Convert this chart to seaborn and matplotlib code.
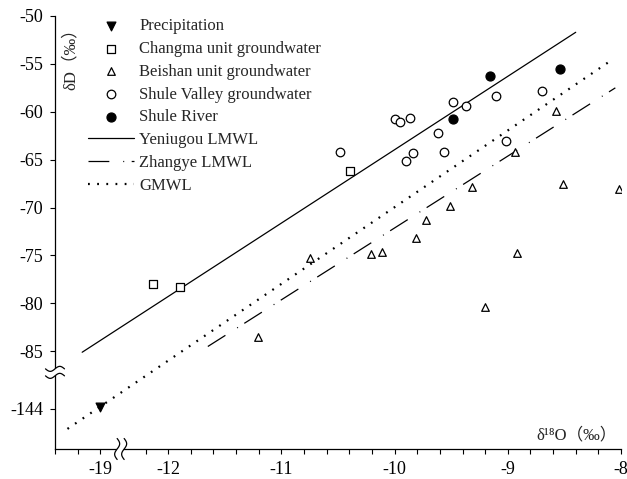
import numpy as np
import matplotlib
matplotlib.use('Agg')
import matplotlib.pyplot as plt
import matplotlib.transforms as mtransforms
import seaborn as sns

precip_x = [-19.0]
precip_y = [-143.8]
changma_x = [-12.13, -11.90, -10.39]
changma_y = [-78.0, -78.3, -66.2]
beishan_x = [-11.21, -10.75, -10.21, -10.11, -9.81, -9.72, -9.51, -9.32, -9.20, -8.92, -8.94, -8.57, -8.51, -8.02]
beishan_y = [-83.5, -75.3, -74.8, -74.6, -73.2, -71.3, -69.8, -67.85, -80.4, -74.7, -64.2, -59.9, -67.5, -68.1]
valley_x = [-10.48, -10.00, -9.95, -9.86, -9.90, -9.84, -9.62, -9.56, -9.48, -9.37, -9.10, -9.02, -8.70]
valley_y = [-64.2, -60.8, -61.1, -60.6, -65.1, -64.3, -62.2, -64.15, -59.0, -59.4, -58.4, -63.1, -57.8]
river_x = [-9.16, -8.54, -9.48]
river_y = [-56.3, -55.5, -60.8]

# meteoric water lines, end points
yeniugou_x = [-19.16, -8.40]
yeniugou_y = [-85.1, -51.7]
zhangye_x = [-11.65, -8.05]
zhangye_y = [-84.5, -57.5]
gmwl_x = [-19.29, -8.07]
gmwl_y = [-146.1, -54.5]

x_tick_vals = [-19, -12, -11, -10, -9, -8]
y_tick_vals = [-50, -55, -60, -65, -70, -75, -80, -85, -144]

# broken axes: the far segments are shifted next to the main range
X_SHIFT = 6.4
Y_SHIFT = 53


def axis_x(vals):
    return [v + X_SHIFT if v < -15 else v for v in vals]


def axis_y(vals):
    return [v + Y_SHIFT if v < -100 else v for v in vals]


def draw_break(ax, x, y, vertical):
    # two wavy strokes with white between them, sizes in inches
    trans = ax.figure.dpi_scale_trans + mtransforms.ScaledTranslation(x, y, ax.transData)
    t = np.linspace(-1, 1, 40)
    wave = 0.025 * np.sin(np.pi * t)
    if vertical:
        a = (wave - 0.035, 0.105 * t)
        b = (wave + 0.035, 0.105 * t)
    else:
        a = (0.095 * t, wave - 0.035)
        b = (0.095 * t, wave + 0.035)
    px = np.concatenate([a[0], b[0][::-1]])
    py = np.concatenate([a[1], b[1][::-1]])
    ax.fill(px, py, color='white', transform=trans, clip_on=False, zorder=5, lw=0)
    for cx, cy in (a, b):
        ax.plot(cx, cy, color='black', lw=0.9, transform=trans, clip_on=False, zorder=6)


sns.set_style('ticks')
plt.rcParams['font.family'] = ['Liberation Serif', 'DejaVu Serif', 'Noto Sans CJK SC']
plt.rcParams['lines.scale_dashes'] = False

fig = plt.figure(figsize=(6.27, 4.79), dpi=100)
ax = fig.add_axes([55 / 627, 30 / 479, 566 / 627, 433 / 479])

mk = dict(edgecolor='black', linewidth=0.9, zorder=4, ax=ax)
sns.scatterplot(x=axis_x(precip_x), y=axis_y(precip_y), marker='v', s=40, color='black',
                label='Precipitation', **mk)
sns.scatterplot(x=changma_x, y=changma_y, marker='s', s=36, color='white',
                label='Changma unit groundwater', **mk)
sns.scatterplot(x=beishan_x, y=beishan_y, marker='^', s=30, color='white',
                label='Beishan unit groundwater', **mk)
sns.scatterplot(x=valley_x, y=valley_y, marker='o', s=38, color='white',
                label='Shule Valley groundwater', **mk)
sns.scatterplot(x=river_x, y=river_y, marker='o', s=42, color='black',
                label='Shule River', **mk)

sns.lineplot(x=axis_x(yeniugou_x), y=axis_y(yeniugou_y), color='black', lw=0.9,
             label='Yeniugou LMWL', ax=ax)
sns.lineplot(x=axis_x(zhangye_x), y=axis_y(zhangye_y), color='black', lw=0.9,
             linestyle=(0, (15, 10, 0.7, 5.4)), label='Zhangye LMWL', ax=ax)
sns.lineplot(x=axis_x(gmwl_x), y=axis_y(gmwl_y), color='black', lw=1.6,
             linestyle=(0, (1.3, 5.3)), label='GMWL', ax=ax)

ax.set_xlim(-13.0, -8.0)
ax.set_ylim(-95.2, -50)
sns.despine(ax=ax)
for sp in ('left', 'bottom'):
    ax.spines[sp].set_linewidth(0.9)
    ax.spines[sp].set_color('black')

# x ticks every 0.2, labelled on whole values
minor_pos = [round(-13.0 + 0.2 * i, 1) for i in range(26)]
minor_pos = [p for p in minor_pos if abs(p + 12.4) > 0.05]
label_pos = axis_x(x_tick_vals)
ax.set_xticks(minor_pos)
ax.set_xticklabels([str(x_tick_vals[label_pos.index(p)]) if p in label_pos else '' for p in minor_pos])
ax.set_yticks(axis_y(y_tick_vals))
ax.set_yticklabels([str(v) for v in y_tick_vals])
ax.tick_params(direction='out', length=3.6, width=0.8, color='black', labelsize=13, pad=5,
               labelcolor='black')
ax.set_xlabel('')
ax.set_ylabel('')

draw_break(ax, -13.0, -87.2, vertical=False)
draw_break(ax, -12.42, -95.2, vertical=True)

ax.text(0.028, 0.91, 'δD（‰）', rotation=90, transform=ax.transAxes, ha='center', va='center',
        fontsize=12)
ax.text(0.993, 0.012, 'δ¹⁸O（‰）', transform=ax.transAxes, ha='right', va='bottom', fontsize=12)

ax.legend(frameon=False, loc='upper left', bbox_to_anchor=(0.058, 0.995), borderpad=0,
          borderaxespad=0, handlelength=2.8, handletextpad=0.3, labelspacing=0.41,
          fontsize=12, scatterpoints=1)

fig.savefig('out.png', dpi=100)
